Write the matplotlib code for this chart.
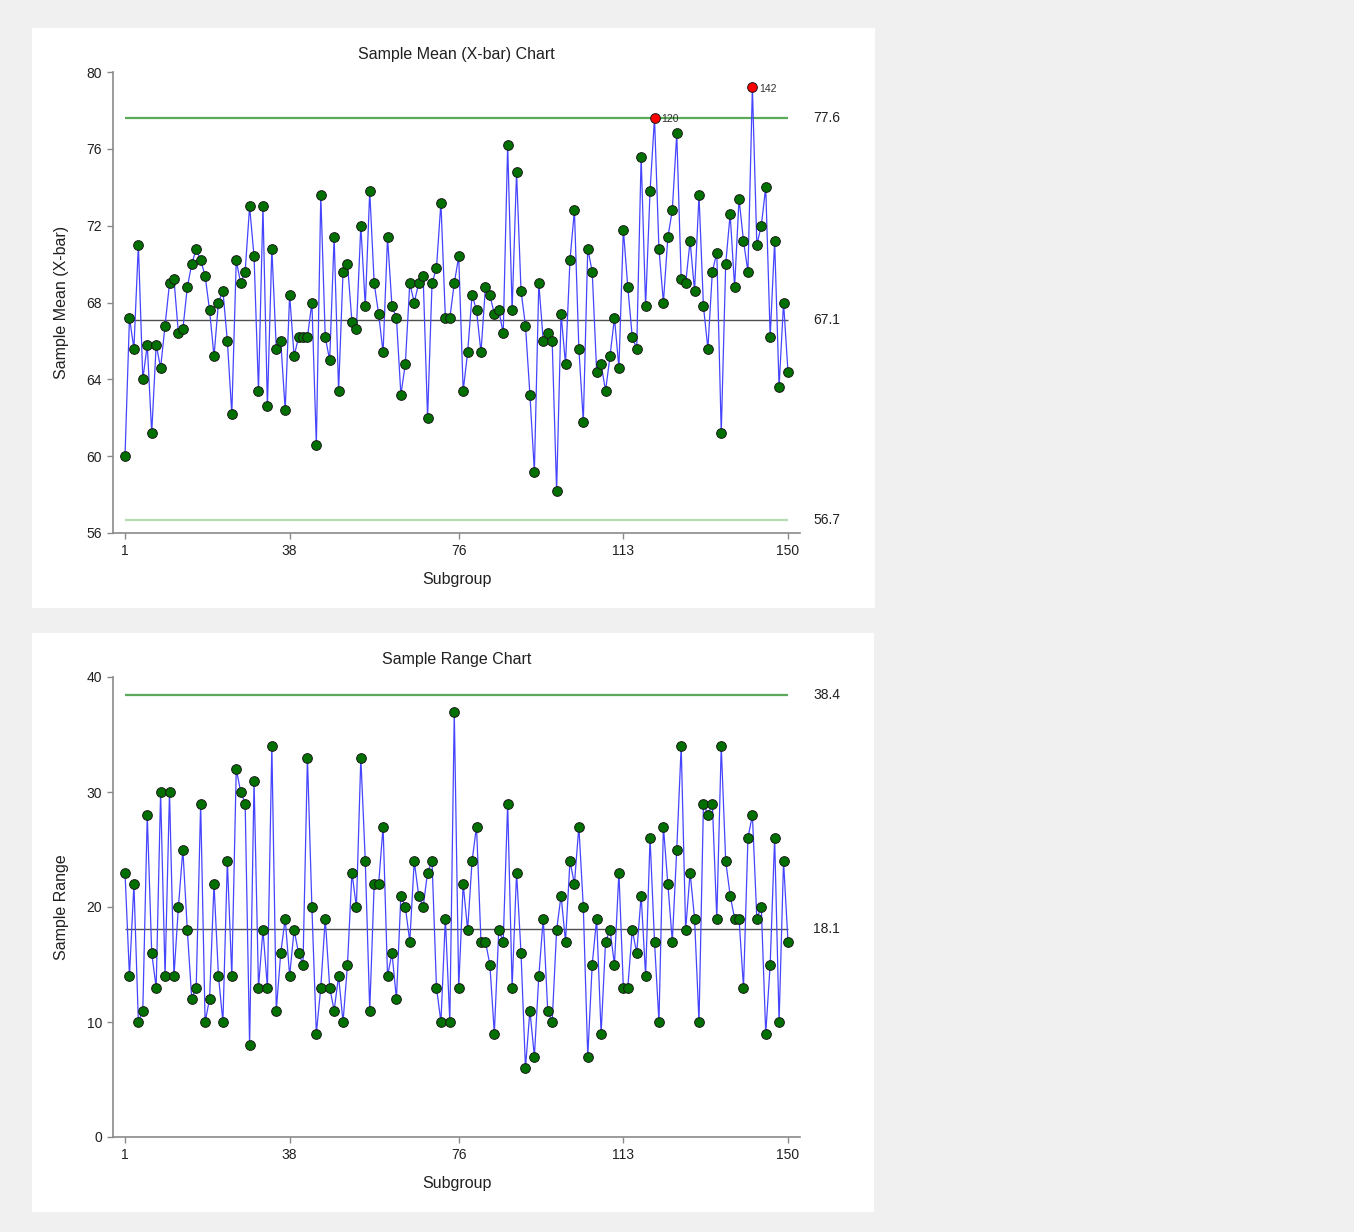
import numpy as np
import matplotlib
matplotlib.use('Agg')
import matplotlib.pyplot as plt
from matplotlib.patches import Rectangle

plt.rcParams['font.family'] = ['Liberation Sans', 'DejaVu Sans']

# Subgroup means (X-bar chart)
xbar = [
    60.0, 67.2, 65.6, 71.0, 64.0, 65.8, 61.2, 65.8, 64.6, 66.8,
    69.0, 69.2, 66.4, 66.6, 68.8, 70.0, 70.8, 70.2, 69.4, 67.6,
    65.2, 68.0, 68.6, 66.0, 62.2, 70.2, 69.0, 69.6, 73.0, 70.4,
    63.4, 73.0, 62.6, 70.8, 65.6, 66.0, 62.4, 68.4, 65.2, 66.2,
    66.2, 66.2, 68.0, 60.6, 73.6, 66.2, 65.0, 71.4, 63.4, 69.6,
    70.0, 67.0, 66.6, 72.0, 67.8, 73.8, 69.0, 67.4, 65.4, 71.4,
    67.8, 67.2, 63.2, 64.8, 69.0, 68.0, 69.0, 69.4, 62.0, 69.0,
    69.8, 73.2, 67.2, 67.2, 69.0, 70.4, 63.4, 65.4, 68.4, 67.6,
    65.4, 68.8, 68.4, 67.4, 67.6, 66.4, 76.2, 67.6, 74.8, 68.6,
    66.8, 63.2, 59.2, 69.0, 66.0, 66.4, 66.0, 58.2, 67.4, 64.8,
    70.2, 72.8, 65.6, 61.8, 70.8, 69.6, 64.4, 64.8, 63.4, 65.2,
    67.2, 64.6, 71.8, 68.8, 66.2, 65.6, 75.6, 67.8, 73.8, 77.62,
    70.8, 68.0, 71.4, 72.8, 76.8, 69.2, 69.0, 71.2, 68.6, 73.6,
    67.8, 65.6, 69.6, 70.6, 61.2, 70.0, 72.6, 68.8, 73.4, 71.2,
    69.6, 79.2, 71.0, 72.0, 74.0, 66.2, 71.2, 63.6, 68.0, 64.4,
]

# Subgroup ranges (R chart)
ranges = [
    23, 14, 22, 10, 11, 28, 16, 13, 30, 14,
    30, 14, 20, 25, 18, 12, 13, 29, 10, 12,
    22, 14, 10, 24, 14, 32, 30, 29, 8, 31,
    13, 18, 13, 34, 11, 16, 19, 14, 18, 16,
    15, 33, 20, 9, 13, 19, 13, 11, 14, 10,
    15, 23, 20, 33, 24, 11, 22, 22, 27, 14,
    16, 12, 21, 20, 17, 24, 21, 20, 23, 24,
    13, 10, 19, 10, 37, 13, 22, 18, 24, 27,
    17, 17, 15, 9, 18, 17, 29, 13, 23, 16,
    6, 11, 7, 14, 19, 11, 10, 18, 21, 17,
    24, 22, 27, 20, 7, 15, 19, 9, 17, 18,
    15, 23, 13, 13, 18, 16, 21, 14, 26, 17,
    10, 27, 22, 17, 25, 34, 18, 23, 19, 10,
    29, 28, 29, 19, 34, 24, 21, 19, 19, 13,
    26, 28, 19, 20, 9, 15, 26, 10, 24, 17,
]

subgroups = np.arange(1, len(xbar) + 1)
xticks = [1, 38, 76, 113, 150]

xbar_limits = {'ucl': 77.6, 'cl': 67.1, 'lcl': 56.7}
range_limits = {'ucl': 38.4, 'cl': 18.1, 'lcl': None}

W, H = 1354, 1232
fig = plt.figure(figsize=(W / 100, H / 100), dpi=100)
fig.patch.set_facecolor('#f0f0f0')


def fig_rect(x0, y0, x1, y1):
    """Pixel box (top-left origin) -> figure fraction [l, b, w, h]."""
    return [x0 / W, 1 - y1 / H, (x1 - x0) / W, (y1 - y0) / H]


def panel(x0, y0, x1, y1):
    l, b, w, h = fig_rect(x0, y0, x1, y1)
    fig.add_artist(Rectangle((l, b), w, h, transform=fig.transFigure,
                             facecolor='white', edgecolor='none', zorder=0))


def control_chart(ax, values, limits, ylim, yticks, title, ylabel):
    values = np.asarray(values, dtype=float)
    ax.set_facecolor('none')
    ax.set_xlim(-1.7, 152.7)
    ax.set_ylim(*ylim)

    ax.hlines(limits['ucl'], 1, 150, color='#5aaa5a', lw=1.6, zorder=2)
    ax.hlines(limits['cl'], 1, 150, color='#505050', lw=1.0, zorder=2)
    if limits['lcl'] is not None:
        ax.hlines(limits['lcl'], 1, 150, color='#b5dcb5', lw=1.6, zorder=2)

    ax.plot(subgroups, values, color='#4545ff', lw=0.9, zorder=3)
    out = values > limits['ucl']
    if limits['lcl'] is not None:
        out |= values < limits['lcl']
    ax.plot(subgroups[~out], values[~out], 'o', ms=7, mfc='#007000',
            mec='#1a1a1a', mew=0.7, zorder=4)
    ax.plot(subgroups[out], values[out], 'o', ms=7, mfc='#ff0000',
            mec='#1a1a1a', mew=0.7, zorder=4)
    for s, v in zip(subgroups[out], values[out]):
        ax.annotate(str(s), (s, v), xytext=(5, -1), textcoords='offset points',
                    fontsize=7.5, va='center', ha='left', color='#303030')

    ytr = ax.get_yaxis_transform()
    for key in ('ucl', 'cl', 'lcl'):
        if limits[key] is not None:
            ax.text(1.019, limits[key], f"{limits[key]:.1f}", transform=ytr,
                    ha='left', va='center', fontsize=10, color='#202020')

    for side in ('top', 'right'):
        ax.spines[side].set_visible(False)
    for side in ('left', 'bottom'):
        ax.spines[side].set_color('#8a8a8a')
        ax.spines[side].set_linewidth(1.2)
    ax.set_xticks(xticks)
    ax.set_yticks(yticks)
    ax.tick_params(axis='both', direction='out', length=4, width=1,
                   colors='#8a8a8a', labelcolor='#202020', labelsize=10,
                   pad=4)

    ax.text(0.5, 1.037, title, transform=ax.transAxes, ha='center',
            va='center', fontsize=11.5, color='#202020')
    ax.set_xlabel('Subgroup', fontsize=11.5, color='#202020')
    ax.xaxis.set_label_coords(0.5, -0.085)
    ax.set_ylabel(ylabel, fontsize=11.5, color='#202020')
    ax.yaxis.set_label_coords(-0.064, 0.5)


panel(32, 28, 875, 608)
panel(32, 633, 874, 1212)

ax1 = fig.add_axes(fig_rect(113, 72, 800, 533))
control_chart(ax1, xbar, xbar_limits, (56, 80), np.arange(56, 81, 4),
              'Sample Mean (X-bar) Chart', 'Sample Mean (X-bar)')

ax2 = fig.add_axes(fig_rect(113, 677, 800, 1137))
control_chart(ax2, ranges, range_limits, (0, 40), np.arange(0, 41, 10),
              'Sample Range Chart', 'Sample Range')

fig.savefig('out.png', dpi=100, facecolor=fig.get_facecolor())
